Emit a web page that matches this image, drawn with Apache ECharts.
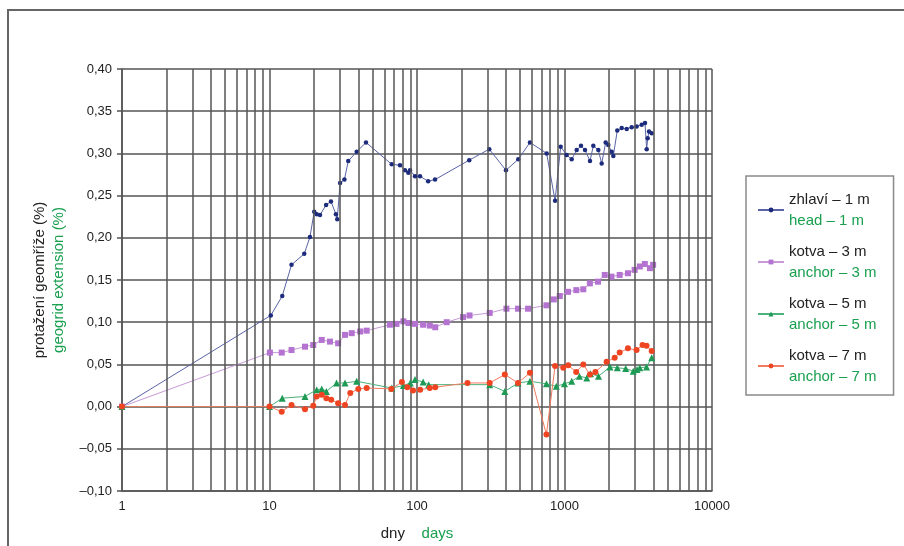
<!DOCTYPE html>
<html>
<head>
<meta charset="utf-8">
<script src="https://cdn.jsdelivr.net/npm/echarts@6/dist/echarts.min.js"></script>
<style>
html,body{margin:0;padding:0;background:#fff;}
#chart{width:904px;height:546px;}
</style>
</head>
<body>
<div id="chart"></div>
<script>
// ---- data ----
const seriesNamesCz = ['zhlaví – 1 m', 'kotva – 3 m', 'kotva – 5 m', 'kotva – 7 m'];
const seriesNamesEn = ['head – 1 m', 'anchor – 3 m', 'anchor – 5 m', 'anchor – 7 m'];

const days1 = [1, 10.2, 12.2, 14.1, 17.2, 18.8, 20.1, 20.9, 22, 24.2, 26.1, 28.2, 28.8, 30.1, 32.2, 34.2, 39, 45.1, 67.4, 76.7, 82.9, 87.3, 89.7, 96.9, 104.8, 119, 132.5, 226, 309, 401, 486, 583, 757, 863, 942, 1035, 1119, 1210, 1294, 1377, 1489, 1568, 1695, 1787, 1902, 1982, 2089, 2142, 2279, 2442, 2640, 2855, 3086, 3336, 3513, 3607, 3664, 3740, 3900];
const vals1 = [0, 0.108, 0.131, 0.168, 0.181, 0.201, 0.231, 0.228, 0.227, 0.239, 0.243, 0.228, 0.222, 0.265, 0.269, 0.291, 0.302, 0.313, 0.287, 0.286, 0.280, 0.277, 0.280, 0.273, 0.273, 0.267, 0.269, 0.292, 0.305, 0.280, 0.293, 0.313, 0.300, 0.244, 0.308, 0.298, 0.293, 0.304, 0.309, 0.304, 0.291, 0.309, 0.304, 0.288, 0.313, 0.310, 0.302, 0.297, 0.327, 0.330, 0.329, 0.331, 0.332, 0.334, 0.336, 0.305, 0.318, 0.326, 0.324];

const days2 = [1, 10.06, 12.1, 14.1, 17.4, 19.8, 22.6, 25.7, 29.2, 32.5, 36.1, 41.2, 45.6, 65.5, 72.6, 80.9, 87.6, 96.9, 110, 122, 133, 159, 205, 227, 311, 404, 484, 566, 754, 846, 929, 1056, 1203, 1341, 1486, 1687, 1874, 2082, 2366, 2693, 2988, 3241, 3505, 3797, 3990];
const vals2 = [0, 0.064, 0.064, 0.067, 0.071, 0.073, 0.079, 0.077, 0.075, 0.085, 0.087, 0.089, 0.090, 0.097, 0.098, 0.101, 0.099, 0.098, 0.097, 0.096, 0.094, 0.100, 0.106, 0.108, 0.111, 0.116, 0.116, 0.116, 0.120, 0.127, 0.131, 0.136, 0.138, 0.139, 0.146, 0.148, 0.156, 0.154, 0.156, 0.158, 0.162, 0.166, 0.169, 0.164, 0.168];

const days3 = [1, 10, 12.2, 17.4, 20.9, 22.6, 24.3, 28.5, 32.5, 39, 67.5, 80.9, 90, 96.9, 110, 120, 311, 394, 484, 583, 754, 880, 1000, 1119, 1262, 1416, 1500, 1700, 2032, 2280, 2600, 2925, 3100, 3240, 3600, 3900];
const vals3 = [0, 0, 0.010, 0.012, 0.020, 0.021, 0.018, 0.028, 0.028, 0.030, 0.022, 0.025, 0.028, 0.032, 0.029, 0.026, 0.026, 0.018, 0.028, 0.030, 0.027, 0.024, 0.027, 0.030, 0.036, 0.034, 0.039, 0.036, 0.047, 0.046, 0.045, 0.042, 0.044, 0.046, 0.047, 0.058];

const days4 = [1, 10, 12.1, 14.1, 17.4, 19.8, 20.9, 22.6, 24.3, 26.2, 29.2, 32.5, 35.3, 40, 45.6, 67, 79, 86, 94, 105, 122, 133, 220, 311, 394, 484, 583, 754, 863, 981, 1060, 1200, 1341, 1486, 1620, 1930, 2190, 2366, 2693, 3080, 3380, 3600, 3900];
const vals4 = [0, 0, -0.006, 0.002, -0.003, 0.001, 0.012, 0.014, 0.010, 0.008, 0.004, 0.002, 0.016, 0.021, 0.022, 0.021, 0.029, 0.023, 0.019, 0.020, 0.022, 0.023, 0.028, 0.028, 0.038, 0.028, 0.040, -0.033, 0.048, 0.046, 0.049, 0.041, 0.050, 0.038, 0.041, 0.053, 0.058, 0.064, 0.069, 0.067, 0.073, 0.072, 0.066];

// minor (2..9 per decade) vertical grid positions on the log axis
const minorGridDays = [2,3,4,5,6,7,8,9, 20,30,40,50,60,70,80,90, 200,300,400,500,600,700,800,900, 2000,3000,4000,5000,6000,7000,8000,9000];

const xAxisTitleCz = 'dny';
const xAxisTitleEn = 'days';
const yAxisTitleCz = 'protažení geomříže (%)';
const yAxisTitleEn = 'geogrid extension (%)';

// ---- styling ----
const FONT = '"Liberation Sans", Arial, sans-serif';
const GREEN_TXT = '#1aa050';
const GRID_COL = '#555555';
const lineCols = ['#5a64a6', '#c79ad8', '#4cb07a', '#f27a5e'];
const markCols = ['#1d2b7c', '#b473d0', '#1e9a55', '#ee4422'];
const symbols = ['circle', 'rect', 'triangle', 'circle'];
const symSizes = [4.5, 6, 7, 6];

const pairs = (d, v) => d.map((x, i) => [x, v[i]]);
const allData = [pairs(days1, vals1), pairs(days2, vals2), pairs(days3, vals3), pairs(days4, vals4)];

const nameMap = {};
seriesNamesCz.forEach((n, i) => nameMap[n] = seriesNamesEn[i]);

const chart = echarts.init(document.getElementById('chart'), null, {renderer: 'canvas'});

const series = [{
  name: 'minorGrid',
  type: 'line',
  data: [],
  z: 1,
  silent: true,
  markLine: {
    silent: true,
    symbol: ['none', 'none'],
    label: {show: false},
    lineStyle: {color: GRID_COL, width: 1.5, type: 'solid'},
    emphasis: {disabled: true},
    animation: false,
    data: minorGridDays.map(d => ({xAxis: d}))
  }
}];
seriesNamesCz.forEach((n, i) => {
  series.push({
    name: n,
    type: 'line',
    data: allData[i],
    z: 3 + i,
    symbol: symbols[i],
    symbolSize: symSizes[i],
    showAllSymbol: true,
    lineStyle: {color: lineCols[i], width: 1},
    itemStyle: {color: markCols[i], borderWidth: 0},
    emphasis: {disabled: true}
  });
});

const yFmt = v => {
  const r = Math.round(v * 100) / 100;
  const s = Math.abs(r).toFixed(2).replace('.', ',');
  return r < 0 ? '–' + s : s;
};
const xFmt = v => String(Math.round(v));

chart.setOption({
  animation: false,
  backgroundColor: '#ffffff',
  textStyle: {fontFamily: FONT},
  grid: {left: 122, right: 192, top: 69, bottom: 54.5, containLabel: false},
  xAxis: {
    type: 'log',
    logBase: 10,
    min: 1,
    max: 10000,
    axisLine: {show: true, onZero: false, lineStyle: {color: GRID_COL, width: 1.5}},
    axisTick: {show: false},
    axisLabel: {color: '#222', fontSize: 13, fontFamily: FONT, margin: 9, formatter: xFmt},
    splitLine: {show: true, lineStyle: {color: GRID_COL, width: 1.5}},
    name: '{a|' + xAxisTitleCz + '}     {b|' + xAxisTitleEn + '}',
    nameLocation: 'middle',
    nameGap: 35,
    nameTextStyle: {
      rich: {
        a: {color: '#222', fontSize: 15, fontFamily: FONT},
        b: {color: GREEN_TXT, fontSize: 15, fontFamily: FONT}
      }
    }
  },
  yAxis: {
    type: 'value',
    min: -0.1,
    max: 0.4,
    interval: 0.05,
    axisLine: {show: true, onZero: false, lineStyle: {color: GRID_COL, width: 1.5}},
    axisTick: {show: true, length: 5, lineStyle: {color: GRID_COL, width: 1.5}},
    axisLabel: {color: '#222', fontSize: 13, fontFamily: FONT, margin: 10, formatter: yFmt},
    splitLine: {show: true, lineStyle: {color: GRID_COL, width: 1.5}},
    name: '{a|' + yAxisTitleCz + '}\n{b|' + yAxisTitleEn + '}',
    nameLocation: 'middle',
    nameRotate: 90,
    nameGap: 49,
    nameTextStyle: {
      lineHeight: 19,
      rich: {
        a: {color: '#222', fontSize: 15, fontFamily: FONT, lineHeight: 19},
        b: {color: GREEN_TXT, fontSize: 15, fontFamily: FONT, lineHeight: 19}
      }
    }
  },
  legend: {
    orient: 'vertical',
    left: 746,
    top: 176,
    data: seriesNamesCz,
    itemWidth: 26,
    itemHeight: 6,
    itemGap: 16,
    padding: [16, 17, 11, 11],
    backgroundColor: '#fff',
    borderColor: '#8a8a8a',
    borderWidth: 1.5,
    selectedMode: false,
    formatter: n => '{a|' + n + '}\n{b|' + nameMap[n] + '}',
    textStyle: {
      fontFamily: FONT,
      rich: {
        a: {color: '#222', fontSize: 15, fontFamily: FONT, lineHeight: 21},
        b: {color: GREEN_TXT, fontSize: 15, fontFamily: FONT, lineHeight: 21}
      }
    }
  },
  graphic: [{
    type: 'polyline',
    silent: true,
    shape: {points: [[8, 546], [8, 10], [904, 10]]},
    style: {stroke: '#666', lineWidth: 2, fill: null}
  }],
  series: series
});
</script>
</body>
</html>
